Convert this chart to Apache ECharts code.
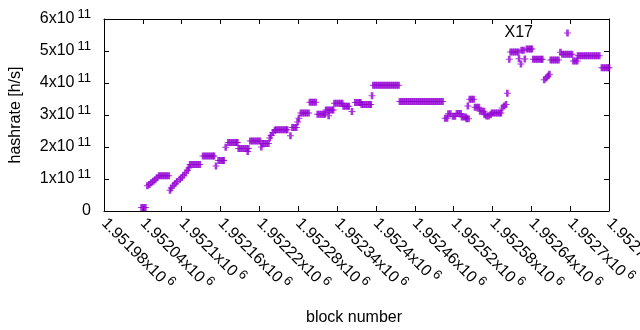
<!DOCTYPE html>
<html>
<head>
<meta charset="utf-8">
<script src="https://cdn.jsdelivr.net/npm/echarts@6/dist/echarts.min.js"></script>
<style>
html,body{margin:0;padding:0;background:#fff}
#main{width:640px;height:330px}
</style>
</head>
<body>
<div id="main"></div>
<script>
// [block number, hashrate in 1e11 h/s]
var x17 = [
  [1952038,0.11],[1952041,0.11],[1952044,0.11],
  [1952047,0.79],[1952050,0.83],[1952053,0.88],[1952056,0.93],[1952059,0.98],[1952062,1.04],
  [1952065,1.10],[1952068,1.10],[1952071,1.10],[1952074,1.10],[1952077,1.10],[1952080,1.10],
  [1952082,0.65],[1952084,0.72],[1952087,0.80],[1952090,0.86],[1952093,0.92],[1952097,0.99],
  [1952100,1.05],[1952103,1.12],[1952106,1.19],[1952109,1.27],[1952111,1.34],
  [1952113,1.45],[1952116,1.45],[1952119,1.45],[1952122,1.45],[1952125,1.45],[1952128,1.45],
  [1952133,1.72],[1952136,1.72],[1952139,1.72],[1952142,1.72],[1952145,1.72],[1952148,1.72],[1952150,1.72],
  [1952153,1.41],
  [1952157,1.58],[1952160,1.58],[1952163,1.58],[1952165,1.58],
  [1952168,1.99],
  [1952172,2.14],[1952175,2.14],[1952178,2.14],[1952181,2.14],[1952184,2.14],[1952186,2.14],
  [1952188,1.95],[1952191,1.95],[1952194,1.95],[1952197,1.95],[1952200,1.95],[1952202,1.86],[1952203,1.95],
  [1952206,2.19],[1952209,2.19],[1952212,2.19],[1952215,2.19],[1952218,2.19],[1952221,2.19],
  [1952223,2.00],
  [1952225,2.11],[1952228,2.11],[1952231,2.11],[1952234,2.11],
  [1952236,2.28],[1952238,2.36],[1952241,2.45],[1952244,2.52],
  [1952246,2.54],[1952249,2.54],[1952252,2.54],[1952255,2.54],[1952258,2.54],[1952261,2.54],[1952263,2.54],
  [1952268,2.35],
  [1952271,2.61],[1952274,2.61],[1952277,2.61],
  [1952279,2.78],[1952281,2.90],
  [1952284,3.06],[1952287,3.06],[1952290,3.06],[1952293,3.06],[1952296,3.06],
  [1952298,3.40],[1952301,3.40],[1952304,3.40],[1952307,3.40],
  [1952310,3.02],[1952313,3.02],[1952316,3.02],[1952319,3.02],[1952321,3.02],
  [1952323,3.16],[1952326,3.16],[1952327,2.98],[1952329,3.16],[1952332,3.16],[1952334,3.16],
  [1952336,3.37],[1952339,3.37],[1952342,3.37],[1952345,3.37],[1952348,3.37],
  [1952350,3.27],[1952353,3.27],[1952356,3.27],[1952358,3.27],
  [1952363,3.11],
  [1952368,3.39],[1952371,3.39],[1952374,3.39],[1952376,3.39],
  [1952378,3.33],[1952381,3.33],[1952384,3.33],[1952387,3.33],[1952390,3.33],[1952392,3.33],
  [1952394,3.60],
  [1952396,3.93],[1952399,3.93],[1952402,3.93],[1952405,3.93],[1952408,3.93],[1952411,3.93],[1952414,3.93],
  [1952417,3.93],[1952420,3.93],[1952423,3.93],[1952426,3.93],[1952429,3.93],[1952432,3.93],[1952435,3.93],
  [1952437,3.42],[1952440,3.42],[1952443,3.42],[1952446,3.42],[1952449,3.42],[1952452,3.42],[1952455,3.42],
  [1952458,3.42],[1952461,3.42],[1952464,3.42],[1952467,3.42],[1952470,3.42],[1952473,3.42],[1952476,3.42],
  [1952479,3.42],[1952482,3.42],[1952485,3.42],[1952488,3.42],[1952491,3.42],[1952494,3.42],[1952497,3.42],
  [1952500,3.42],[1952503,3.42],
  [1952507,2.90],[1952510,2.90],
  [1952512,3.04],[1952515,3.04],
  [1952519,2.96],[1952522,2.96],
  [1952525,3.05],[1952528,3.05],[1952531,3.05],
  [1952533,2.94],[1952536,2.94],[1952539,2.94],
  [1952540,2.88],[1952543,2.88],
  [1952542,3.28],
  [1952545,3.49],[1952548,3.49],[1952551,3.49],
  [1952553,3.24],[1952556,3.24],[1952559,3.24],
  [1952561,3.12],[1952564,3.12],[1952567,3.12],
  [1952568,3.01],[1952571,2.97],[1952574,2.97],[1952577,3.01],
  [1952579,3.06],[1952582,3.06],[1952585,3.06],[1952588,3.06],[1952591,3.06],[1952593,3.06],
  [1952595,3.22],[1952598,3.28],[1952601,3.33],
  [1952603,3.68],
  [1952606,4.74],
  [1952608,4.97],[1952611,4.97],[1952614,4.97],[1952617,4.97],[1952620,4.97],
  [1952621,4.76],[1952624,4.59],
  [1952625,5.02],[1952628,5.02],
  [1952630,4.75],
  [1952633,5.06],[1952636,5.06],[1952639,5.06],[1952641,5.06],
  [1952643,4.74],[1952646,4.74],[1952649,4.74],[1952652,4.74],[1952655,4.74],[1952657,4.74],
  [1952660,4.10],[1952663,4.16],[1952666,4.22],[1952668,4.27],
  [1952670,4.72],[1952673,4.72],[1952676,4.72],[1952679,4.72],[1952682,4.72],
  [1952685,4.96],[1952688,4.90],[1952691,4.90],[1952694,4.90],[1952697,4.90],[1952700,4.90],[1952703,4.90],
  [1952705,4.69],[1952708,4.69],[1952711,4.69],
  [1952712,4.85],[1952715,4.85],[1952718,4.85],[1952721,4.85],[1952724,4.85],[1952727,4.85],
  [1952730,4.85],[1952733,4.85],[1952736,4.85],[1952739,4.85],[1952742,4.85],[1952745,4.85],
  [1952749,4.48],[1952752,4.48],[1952755,4.48],[1952758,4.48],[1952760,4.48]
];

// axis ranges
var xMin = 1951980, xMax = 1952760, xStep = 60, xExp = '6';
var yMin = 0, yMax = 6, yStep = 1, yExp = '11';

var font = 'Liberation Sans';
// gnuplot style "+" point, vertical stroke a bit wider so runs of points fill up
var plus = 'path://M0,3H7V4H0Z M2.2,0H4.8V7H2.2Z';
var rich = {
  b: {fontSize: 16, fontFamily: font, color: '#000'},
  s: {fontSize: 13, fontFamily: font, color: '#000', padding: [0, 0, 10, 3]}
};

function xLabel(v) {
  return '{b|' + parseFloat((v / 1e6).toFixed(5)) + 'x10}{s|' + xExp + '}';
}
function yLabel(v) {
  return v === 0 ? '{b|0}' : '{b|' + v + 'x10}{s|' + yExp + '}';
}

var tick = {show: true, inside: true, length: 5, lineStyle: {color: '#000', width: 1}};
var line = {show: true, onZero: false, lineStyle: {color: '#000', width: 1}};

var chart = echarts.init(document.getElementById('main'));
chart.setOption({
  animation: false,
  backgroundColor: '#fff',
  grid: {left: 104, top: 19, right: 31, bottom: 119, containLabel: false, outerBoundsMode: 'none'},
  legend: {
    data: [{name: 'X17', icon: plus}],
    right: 69, top: 25, padding: 0,
    itemWidth: 7, itemHeight: 7, align: 'right',
    textStyle: {fontSize: 16, fontFamily: font, color: '#000', lineHeight: 16, padding: [0, 26, 0, 0]}
  },
  xAxis: [{
    type: 'value', position: 'bottom', min: xMin, max: xMax, interval: xStep,
    name: 'block number', nameLocation: 'middle', nameGap: 99,
    nameTextStyle: {fontSize: 16, fontFamily: font, color: '#000', padding: [0, 5, 0, 0]},
    axisLine: line, axisTick: tick, splitLine: {show: false},
    axisLabel: {rotate: -45, margin: 10, showMinLabel: true, showMaxLabel: true, formatter: xLabel, rich: rich}
  }, {
    type: 'value', position: 'top', min: xMin, max: xMax, interval: xStep,
    axisLine: line, axisTick: tick, splitLine: {show: false}, axisLabel: {show: false}
  }],
  yAxis: [{
    type: 'value', position: 'left', min: yMin, max: yMax, interval: yStep,
    name: 'hashrate [h/s]', nameLocation: 'middle', nameGap: 80,
    nameTextStyle: {fontSize: 16, fontFamily: font, color: '#000'},
    axisLine: line, axisTick: tick, splitLine: {show: false},
    axisLabel: {margin: 13, formatter: yLabel, rich: rich}
  }, {
    type: 'value', position: 'right', min: yMin, max: yMax, interval: yStep,
    axisLine: line, axisTick: tick, splitLine: {show: false}, axisLabel: {show: false}
  }],
  series: [{
    name: 'X17', type: 'scatter', xAxisIndex: 0, yAxisIndex: 0,
    symbol: plus, symbolSize: [7, 7], clip: false,
    itemStyle: {color: '#9400d3'},
    emphasis: {disabled: true},
    data: x17
  }]
});
</script>
</body>
</html>
